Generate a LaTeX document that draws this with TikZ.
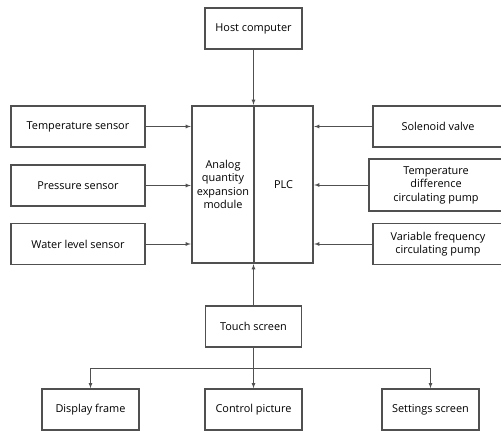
\documentclass[tikz,border=0pt]{standalone}
\usepackage{fontspec}
\setmainfont{Open Sans}
\usepackage{tikz}
\usetikzlibrary{arrows}
\definecolor{linegray}{HTML}{505050}
\tikzstyle{diagram}=[x=1pt, y=-1pt, font=\fontsize{10.9}{13.5}\selectfont]
\tikzstyle{box}=[rectangle, draw=linegray, line width=1.6pt, inner sep=2pt, align=center, minimum height=41pt]
\tikzstyle{core}=[rectangle, draw=linegray, line width=2.4pt, inner sep=1pt, align=center, minimum height=157pt]
\tikzstyle{conn}=[->, line width=0.8pt, draw=linegray, -latex]

\begin{document}
\begin{tikzpicture}[diagram]
	\useasboundingbox (0,0) rectangle (501,432);
	\draw (253.5,28.5) node[box, minimum width=97pt] (host) {Host computer};
	\draw (223,184.5) node[core, minimum width=62pt] (aqem) {Analog\\quantity\\expansion\\module};
	\draw (283.5,184.5) node[core, minimum width=59pt] (plc) {PLC};
	\draw (78,126.5) node[box, minimum width=134pt] (tsens) {Temperature sensor};
	\draw (78,185.5) node[box, minimum width=134pt] (psens) {Pressure sensor};
	\draw (78,244) node[box, minimum width=134pt] (wsens) {Water level sensor};
	\draw (438,126.5) node[box, minimum width=130pt] (valve) {Solenoid valve};
	\draw (436,185) node[box, minimum width=134pt, minimum height=52pt] (tdpump) {Temperature\\difference\\circulating pump};
	\draw (438,244) node[box, minimum width=130pt] (vfpump) {Variable frequency\\circulating pump};
	\draw (253.5,326.5) node[box, minimum width=96pt] (touch) {Touch screen};
	\draw (90.5,409.5) node[box, minimum width=97pt] (disp) {Display frame};
	\draw (253.5,409.5) node[box, minimum width=97pt] (ctrl) {Control picture};
	\draw (430.5,409.5) node[box, minimum width=97pt] (sett) {Settings screen};
	\coordinate (fork) at (253.5,368);
	\draw[conn] (host) -- (host |- aqem.north);
	\draw[conn] (tsens) -- (tsens -| aqem.west);
	\draw[conn] (psens) -- (psens -| aqem.west);
	\draw[conn] (wsens) -- (wsens -| aqem.west);
	\draw[conn] (valve) -- (valve -| plc.east);
	\draw[conn] (tdpump) -- (tdpump -| plc.east);
	\draw[conn] (vfpump) -- (vfpump -| plc.east);
	\draw[conn] (touch) -- (touch |- aqem.south);
	\draw[conn] (touch) -- (ctrl);
	\draw[conn] (fork) -| (disp);
	\draw[conn] (fork) -| (sett);
\end{tikzpicture}
\end{document}
